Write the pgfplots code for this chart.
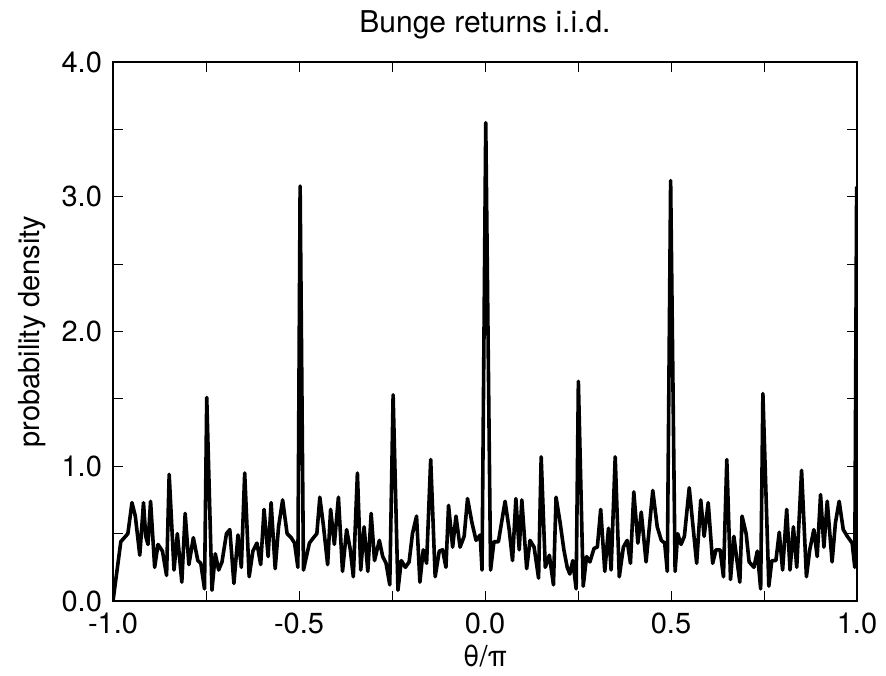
\documentclass[border=0pt]{standalone}
\usepackage{fontspec}
\setmainfont{TeX Gyre Heros}
\usepackage{pgfplots}
\pgfplotsset{compat=1.18}
\begin{document}
\begin{tikzpicture}
\path[use as bounding box] (-56.5pt,-37pt) rectangle (386.5pt,300.5pt);
\begin{axis}[
  at={(0pt,0pt)}, anchor=south west,
  scale only axis, width=372pt, height=269.5pt,
  xmin=-1, xmax=1, ymin=0, ymax=4,
  xtick={-1,-0.5,0,0.5,1},
  minor xtick={-0.75,-0.25,0.25,0.75},
  ytick={0,1,2,3,4},
  minor ytick={0.5,1.5,2.5,3.5},
  tick align=inside,
  major tick length=5pt, minor tick length=5pt,
  tick style={black, line width=0.5pt},
  axis line style={line width=0.6pt},
  /pgf/number format/assume math mode=true,
  /pgf/number format/.cd, fixed, fixed zerofill, precision=1, /pgfplots/.cd,
  ticklabel style={font=\fontsize{14.5}{16}\selectfont},
  xticklabel style={anchor=base, yshift=-16pt},
  yticklabel style={xshift=-2pt},
  xlabel={\fontsize{14.5}{16}\selectfont θ/π},
  xlabel style={at={(axis description cs:0.5,-0.122)}, anchor=base},
  ylabel={\fontsize{14.5}{16}\selectfont probability density},
  ylabel style={at={(axis description cs:-0.109,0.5)}, anchor=center},
  clip=true,
]
\addplot[black, line width=1.8pt, line join=round] coordinates {
(-1.000,0.00) (-0.979,0.44) (-0.960,0.50) (-0.949,0.73) (-0.940,0.63) (-0.928,0.34)
(-0.918,0.73) (-0.912,0.48) (-0.906,0.42) (-0.899,0.74) (-0.888,0.25) (-0.879,0.42)
(-0.867,0.37) (-0.856,0.19) (-0.849,0.94) (-0.836,0.23) (-0.827,0.50) (-0.815,0.14)
(-0.806,0.65) (-0.796,0.27) (-0.784,0.47) (-0.772,0.30) (-0.764,0.28) (-0.754,0.09)
(-0.748,1.51) (-0.734,0.08) (-0.725,0.35) (-0.716,0.23) (-0.707,0.29) (-0.695,0.50)
(-0.686,0.53) (-0.675,0.13) (-0.664,0.49) (-0.655,0.25) (-0.646,0.95) (-0.634,0.18)
(-0.624,0.37) (-0.613,0.43) (-0.603,0.27) (-0.594,0.68) (-0.583,0.33) (-0.575,0.73)
(-0.564,0.24) (-0.555,0.55) (-0.544,0.75) (-0.532,0.50) (-0.521,0.47) (-0.512,0.43)
(-0.503,0.25) (-0.497,3.08) (-0.488,0.23) (-0.472,0.43) (-0.461,0.47) (-0.452,0.50)
(-0.444,0.77) (-0.434,0.55) (-0.423,0.27) (-0.415,0.68) (-0.405,0.42) (-0.394,0.77)
(-0.383,0.22) (-0.372,0.53) (-0.362,0.38) (-0.354,0.18) (-0.343,0.95) (-0.334,0.23)
(-0.325,0.55) (-0.315,0.22) (-0.306,0.65) (-0.297,0.30) (-0.284,0.45) (-0.275,0.33)
(-0.266,0.28) (-0.256,0.12) (-0.247,1.53) (-0.234,0.08) (-0.225,0.30) (-0.214,0.25)
(-0.204,0.29) (-0.195,0.50) (-0.184,0.63) (-0.175,0.14) (-0.166,0.38) (-0.157,0.28)
(-0.146,1.05) (-0.134,0.18) (-0.123,0.37) (-0.114,0.38) (-0.105,0.25) (-0.098,0.71)
(-0.087,0.40) (-0.078,0.63) (-0.067,0.40) (-0.056,0.48) (-0.047,0.76) (-0.035,0.58)
(-0.024,0.45) (-0.013,0.49) (-0.008,0.23) (0.002,3.55) (0.015,0.23) (0.024,0.44)
(0.036,0.44) (0.054,0.74) (0.065,0.53) (0.074,0.30) (0.083,0.76) (0.092,0.38)
(0.099,0.75) (0.112,0.24) (0.121,0.45) (0.132,0.40) (0.144,0.17) (0.151,1.07)
(0.162,0.25) (0.173,0.34) (0.184,0.12) (0.191,0.77) (0.202,0.58) (0.212,0.38)
(0.221,0.25) (0.228,0.20) (0.236,0.30) (0.245,0.09) (0.251,1.63) (0.264,0.11)
(0.273,0.33) (0.282,0.29) (0.293,0.39) (0.302,0.40) (0.311,0.68) (0.322,0.22)
(0.332,0.54) (0.339,0.23) (0.350,1.07) (0.361,0.18) (0.372,0.40) (0.382,0.45)
(0.391,0.28) (0.400,0.81) (0.411,0.43) (0.420,0.66) (0.433,0.29) (0.451,0.82)
(0.463,0.55) (0.474,0.45) (0.483,0.43) (0.490,0.22) (0.499,3.12) (0.511,0.22)
(0.518,0.50) (0.527,0.42) (0.536,0.48) (0.549,0.84) (0.560,0.53) (0.569,0.28)
(0.580,0.75) (0.589,0.48) (0.600,0.73) (0.612,0.28) (0.621,0.38) (0.632,0.38)
(0.641,0.18) (0.650,1.05) (0.660,0.16) (0.669,0.48) (0.676,0.33) (0.685,0.14)
(0.691,0.63) (0.702,0.50) (0.710,0.29) (0.723,0.25) (0.732,0.37) (0.741,0.09)
(0.747,1.54) (0.763,0.11) (0.771,0.30) (0.782,0.30) (0.791,0.51) (0.800,0.23)
(0.811,0.68) (0.820,0.23) (0.829,0.55) (0.838,0.25) (0.851,0.97) (0.864,0.18)
(0.873,0.38) (0.884,0.53) (0.893,0.33) (0.902,0.79) (0.911,0.40) (0.920,0.74)
(0.933,0.29) (0.942,0.58) (0.952,0.74) (0.963,0.53) (0.974,0.48) (0.987,0.43)
(0.994,0.25) (0.999,3.07) (1.000,1.25)
};
\coordinate (T) at (rel axis cs:0.5,1);
\end{axis}
\node[anchor=base, font=\fontsize{15}{17}\selectfont, inner sep=0pt] at ([yshift=15pt]T) {Bunge returns i.i.d.};
\end{tikzpicture}
\end{document}
